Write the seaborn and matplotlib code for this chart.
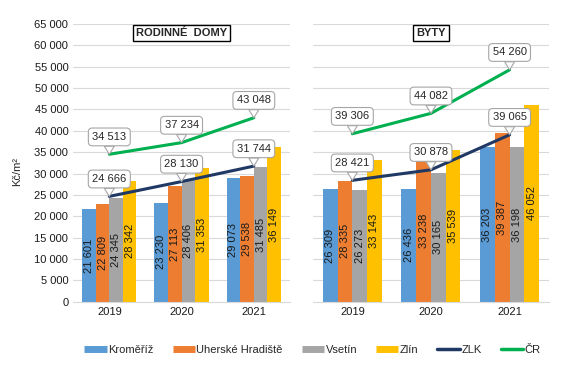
import matplotlib.pyplot as plt
import pandas as pd
import seaborn as sns
from matplotlib.lines import Line2D
from matplotlib.ticker import FuncFormatter

# Data (Kč/m2)
years = ['2019', '2020', '2021']
regions = ['Kroměříž', 'Uherské Hradiště', 'Vsetín', 'Zlín']
colors = ['#5B9BD5', '#ED7D31', '#A5A5A5', '#FFC000']

rd_kromeriz = [21601, 23230, 29073]
rd_uh = [22809, 27113, 29538]
rd_vsetin = [24345, 28406, 31485]
rd_zlin = [28342, 31353, 36149]
rd_zlk = [24666, 28130, 31744]
rd_cr = [34513, 37234, 43048]

by_kromeriz = [26309, 26436, 36203]
by_uh = [28335, 33238, 39387]
by_vsetin = [26273, 30165, 36198]
by_zlin = [33143, 35539, 46052]
by_zlk = [28421, 30878, 39065]
by_cr = [39306, 44082, 54260]

zlk_color = '#203864'
cr_color = '#00B050'


def fmt(v):
    return f'{int(v):,}'.replace(',', ' ')


def long_df(series):
    rows = []
    for reg, vals in zip(regions, series):
        for y, v in zip(years, vals):
            rows.append({'year': y, 'region': reg, 'value': v})
    return pd.DataFrame(rows)


sns.set_style('white')
plt.rcParams['font.family'] = ['Liberation Sans', 'DejaVu Sans']

fig = plt.figure(figsize=(5.63, 3.92), dpi=100)
ax1 = fig.add_axes([0.130, 0.230, 0.385, 0.709])
ax2 = fig.add_axes([0.556, 0.230, 0.419, 0.709])

panels = [
    (ax1, [rd_kromeriz, rd_uh, rd_vsetin, rd_zlin], rd_zlk, rd_cr, 'RODINNÉ  DOMY'),
    (ax2, [by_kromeriz, by_uh, by_vsetin, by_zlin], by_zlk, by_cr, 'BYTY'),
]

for ax, bars, zlk, cr, title in panels:
    df = long_df(bars)
    sns.barplot(data=df, x='year', y='value', hue='region', hue_order=regions,
                palette=colors, width=0.75, gap=0, ax=ax, legend=False,
                edgecolor='none', linewidth=0, errorbar=None, saturation=1)
    for cont, vals in zip(ax.containers, bars):
        ax.bar_label(cont, labels=[fmt(v) for v in vals], label_type='center',
                     rotation=90, fontsize=8, color='#1a1a1a')

    xs = range(len(years))
    ax.plot(xs, zlk, color=zlk_color, lw=2.2, zorder=5)
    ax.plot(xs, cr, color=cr_color, lw=2.2, zorder=5)
    for line in (zlk, cr):
        for i, v in enumerate(line):
            ax.annotate(fmt(v), xy=(i, v), xytext=(0, 12.5), textcoords='offset points',
                        ha='center', va='center', fontsize=8, zorder=6,
                        bbox=dict(boxstyle='round,pad=0.35', fc='white', ec='#A6A6A6', lw=0.8),
                        arrowprops=dict(arrowstyle='wedge,tail_width=0.9,shrink_factor=0.5',
                                        fc='white', ec='#A6A6A6', lw=0.8,
                                        shrinkA=0, shrinkB=0))

    ax.set_ylim(0, 65000)
    ax.set_xlim(-0.5, 2.5)
    ax.set_yticks(range(0, 65001, 5000))
    ax.yaxis.grid(True, color='#D9D9D9', lw=0.8)
    ax.set_axisbelow(True)
    for s in ['left', 'right', 'top']:
        ax.spines[s].set_visible(False)
    ax.spines['bottom'].set_color('#D9D9D9')
    ax.tick_params(axis='both', length=0, labelsize=8, colors='#1a1a1a')
    ax.set_xlabel('')
    ax.set_ylabel('')
    ax.text(0.5, 0.967, title, transform=ax.transAxes,
            ha='center', va='center', fontsize=8, fontweight='bold',
            bbox=dict(boxstyle='square,pad=0.3', fc='white', ec='black', lw=1))

ax1.yaxis.set_major_formatter(FuncFormatter(lambda v, p: fmt(v)))
ax2.set_yticklabels([])
ax1.set_ylabel('Kč/m²', fontsize=8)
ax1.yaxis.set_label_coords(-0.235, 0.47)

handles = [Line2D([], [], color=c, lw=5, solid_capstyle='butt') for c in colors]
handles += [Line2D([], [], color=zlk_color, lw=2.5), Line2D([], [], color=cr_color, lw=2.5)]
fig.legend(handles, regions + ['ZLK', 'ČR'], loc='center', bbox_to_anchor=(0.555, 0.107),
           ncol=6, frameon=False, fontsize=8, handlelength=2.0, handletextpad=0.15,
           columnspacing=1.7)

fig.savefig('out.png', dpi=100)
